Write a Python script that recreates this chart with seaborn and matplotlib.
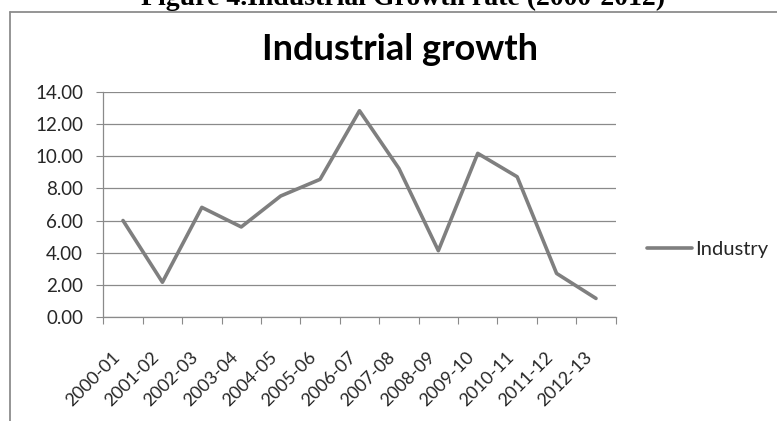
import matplotlib
matplotlib.use("Agg")
import matplotlib.pyplot as plt
from matplotlib.lines import Line2D
from matplotlib.ticker import FixedLocator, FixedFormatter, FormatStrFormatter
from matplotlib.transforms import ScaledTranslation
import seaborn as sns
import pandas as pd
import numpy as np

years = ["2000-01", "2001-02", "2002-03", "2003-04", "2004-05", "2005-06", "2006-07",
         "2007-08", "2008-09", "2009-10", "2010-11", "2011-12", "2012-13"]
industry = [6.0, 2.15, 6.82, 5.6, 7.53, 8.57, 12.85, 9.25, 4.12, 10.19, 8.73, 2.70, 1.14]
y_ticks = [0, 2, 4, 6, 8, 10, 12, 14]

sns.set_theme(style="white")
plt.rcParams["font.family"] = ["Lato", "DejaVu Sans"]

df = pd.DataFrame({"Year": years, "Industry": industry, "pos": np.arange(len(years))})

W, H = 777, 421
fig = plt.figure(figsize=(W / 100, H / 100), dpi=100)
x0, x1, y0, y1 = 103.3, 615.7, 92.3, 316.7
ax = fig.add_axes([x0 / W, 1 - y1 / H, (x1 - x0) / W, (y1 - y0) / H])

line_color = "#7f7f7f"
sns.lineplot(data=df, x="pos", y="Industry", ax=ax, color=line_color, lw=2.6,
             label="Industry", legend=False)

ax.set_xlim(-0.5, len(years) - 0.5)
ax.set_ylim(0, 14)
ax.set_xlabel("")
ax.set_ylabel("")

# y axis
ax.yaxis.set_major_locator(FixedLocator(y_ticks))
ax.yaxis.set_major_formatter(FormatStrFormatter("%.2f"))
ax.tick_params(axis="y", which="major", direction="out", length=4.8, width=0.8,
               color="#8a8a8a", pad=9.8, labelsize=13.5, labelcolor="#262626", left=True)
ax.yaxis.grid(True, color="#8a8a8a", lw=0.9)
ax.xaxis.grid(False)

# x axis: ticks at category boundaries, labels at centres
ax.xaxis.set_major_locator(FixedLocator(np.arange(-0.5, len(years), 1.0)))
ax.xaxis.set_major_formatter(FixedFormatter([""] * (len(years) + 1)))
ax.xaxis.set_minor_locator(FixedLocator(np.arange(len(years))))
ax.xaxis.set_minor_formatter(FixedFormatter(years))
ax.tick_params(axis="x", which="major", direction="out", length=4.8, width=0.8,
               color="#8a8a8a", bottom=True)
ax.tick_params(axis="x", which="minor", length=0, pad=27, labelsize=13,
               labelcolor="#262626", bottom=True)
shift = ScaledTranslation(-6 / 100, 0, fig.dpi_scale_trans)
for lab in ax.get_xticklabels(minor=True):
    lab.set_rotation(45)
    lab.set_ha("right")
    lab.set_va("center")
    lab.set_rotation_mode("anchor")
    lab.set_transform(lab.get_transform() + shift)

for s in ["top", "right"]:
    ax.spines[s].set_visible(False)
for s in ["left", "bottom"]:
    ax.spines[s].set_color("#8a8a8a")
    ax.spines[s].set_linewidth(0.9)

# legend
handle = Line2D([], [], color=line_color, lw=2.6)
fig.legend([handle], ["Industry"], loc="center left",
           bbox_to_anchor=(647 / W, 1 - 249.5 / H), frameon=False, borderpad=0,
           borderaxespad=0, handlelength=2.25, handletextpad=0.15, fontsize=14.5,
           labelcolor="#262626")

# chart title
fig.text(400 / W, 1 - 59.5 / H, "Industrial growth", ha="center", va="baseline",
         fontsize=26, fontweight="bold", color="#000000")

# caption partially visible at top
fig.text(403.5 / W, 1 - 5 / H, "Figure 4.Industrial Growth rate (2000-2012)",
         ha="center", va="baseline", fontsize=20, fontweight="bold",
         family=["Liberation Serif", "DejaVu Serif"], color="#000000")

# chart border (left and top)
bc = "#8c8c8c"
fig.add_artist(Line2D([10 / W, 10 / W], [0, 1 - 12.3 / H], transform=fig.transFigure,
                      color=bc, lw=1.3))
fig.add_artist(Line2D([10 / W, 1], [1 - 12.3 / H, 1 - 12.3 / H], transform=fig.transFigure,
                      color=bc, lw=1.3))

fig.savefig("out.png", dpi=100)
